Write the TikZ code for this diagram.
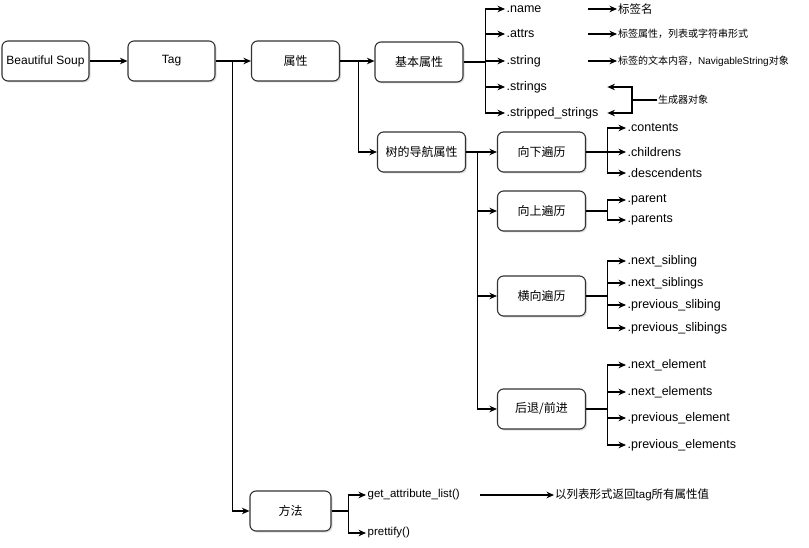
\documentclass[tikz,border=0pt]{standalone}
\usepackage{fontspec}
\setmainfont{Liberation Sans}
\newfontfamily\cjk{Noto Sans CJK SC}
\usetikzlibrary{arrows.meta,shadows}
\begin{document}
\begin{tikzpicture}[x=1pt,y=-1pt,
  box/.style={draw=black!80, line width=1.1pt, rounded corners=6pt, fill=white,
    minimum width=88pt, minimum height=40pt, inner sep=2pt,
    font=\fontsize{12}{14}\selectfont,
    drop shadow={shadow xshift=1.5pt,shadow yshift=-1.5pt,opacity=0.25}},
  arr/.style={line width=1.1pt, draw=black, -{Stealth[length=7.5pt,width=6.5pt]}},
  leaf/.style={anchor=west, inner sep=1.5pt, font=\fontsize{12.5}{14}\selectfont, align=left},
  mleaf/.style={leaf, font=\fontsize{11.5}{13}\selectfont},
  note/.style={anchor=west, inner sep=1pt, font=\cjk\fontsize{10}{12}\selectfont},
]
\fill[white] (0,0) rectangle (809,548);
\useasboundingbox (0,0) rectangle (809,548);

% boxes
\node[box, minimum width=87pt] (bs) at (45.5,61) {Beautiful Soup};
\node[box, minimum width=87pt] (tag) at (171.5,61) {Tag};
\node[box] (attr) at (295.5,61) {\cjk 属性};
\node[box] (basic) at (419,62) {\cjk 基本属性};
\node[box] (nav) at (421.5,152) {\cjk 树的导航属性};
\node[box] (down) at (541.5,152) {\cjk 向下遍历};
\node[box] (up) at (541.5,211) {\cjk 向上遍历};
\node[box] (side) at (541.5,296) {\cjk 横向遍历};
\node[box] (back) at (541.5,409) {\cjk 后退/前进};
\node[box, minimum width=81pt] (method) at (290.5,511) {\cjk 方法};

% leaves of basic attributes
\node[leaf, text width=80pt] (lname) at (505,9) {.name};
\node[leaf, text width=80pt] (lattrs) at (505,34) {.attrs};
\node[leaf, text width=80pt] (lstring) at (505,61) {.string};
\node[leaf, text width=99pt] (lstrings) at (505,87) {.strings};
\node[leaf, text width=99pt] (lstripped) at (505,113) {.stripped\_strings};

\node[note, font=\cjk\fontsize{11.5}{13}\selectfont] (dname) at (617,9) {标签名};
\node[note] (dattrs) at (617,34) {标签属性，列表或字符串形式};
\node[note] (dstring) at (617,61) {标签的文本内容，{\fontspec{Liberation Sans}NavigableString}对象};
\node[note] (gen) at (657,100) {生成器对象};

% down leaves
\node[leaf] (contents) at (626,128) {.contents};
\node[leaf] (children) at (626,152) {.childrens};
\node[leaf] (desc) at (626,173) {.descendents};
% up leaves
\node[leaf] (parent) at (626,200) {.parent};
\node[leaf] (parents) at (626,220) {.parents};
% side leaves
\node[leaf] (ns) at (626,261) {.next\_sibling};
\node[leaf] (nss) at (626,283) {.next\_siblings};
\node[leaf] (ps) at (626,305) {.previous\_slibing};
\node[leaf] (pss) at (626,328) {.previous\_slibings};
% back leaves
\node[leaf] (ne) at (626,365) {.next\_element};
\node[leaf] (nes) at (626,392) {.next\_elements};
\node[leaf] (pe) at (626,418) {.previous\_element};
\node[leaf] (pes) at (626,445) {.previous\_elements};
% method leaves
\node[mleaf, text width=111pt] (gal) at (366,495) {get\_attribute\_list()};
\node[mleaf] (pretty) at (366,533) {prettify()};
\node[note, font=\cjk\fontsize{11.5}{13}\selectfont] (galdesc) at (554,495) {以列表形式返回{\fontspec{Liberation Sans}tag}所有属性值};

% connectors
\draw[arr] (bs.east) -- (tag.west);
\draw[arr] (tag.east) -- (attr.west);
\draw[arr] (tag.east) -- ++(17,0) |- (method.west);
\draw[arr] (attr.east) -- (attr.east -| basic.west);
\draw[arr] (attr.east) -- ++(18,0) |- (nav.west);

\foreach \t in {lname,lattrs,lstring,lstrings,lstripped}
  \draw[arr] (basic.east) -- ++(22,0) |- (\t.west);

\draw[arr] (lname.east) -- (dname.west);
\draw[arr] (lattrs.east) -- (dattrs.west);
\draw[arr] (lstring.east) -- (dstring.west);
\draw[arr] (gen.west) -- ++(-25,0) |- (lstrings.east);
\draw[arr] (gen.west) -- ++(-25,0) |- (lstripped.east);

\foreach \t in {down,up,side,back}
  \draw[arr] (nav.east) -- ++(11,0) |- (\t.west);

\foreach \t in {contents,children,desc}
  \draw[arr] (down.east) -- ++(21,0) |- (\t.west);
\foreach \t in {parent,parents}
  \draw[arr] (up.east) -- ++(21,0) |- (\t.west);
\foreach \t in {ns,nss,ps,pss}
  \draw[arr] (side.east) -- ++(21,0) |- (\t.west);
\foreach \t in {ne,nes,pe,pes}
  \draw[arr] (back.east) -- ++(21,0) |- (\t.west);

\foreach \t in {gal,pretty}
  \draw[arr] (method.east) -- ++(17,0) |- (\t.west);
\draw[arr] (gal.east) -- (galdesc.west);
\end{tikzpicture}
\end{document}
